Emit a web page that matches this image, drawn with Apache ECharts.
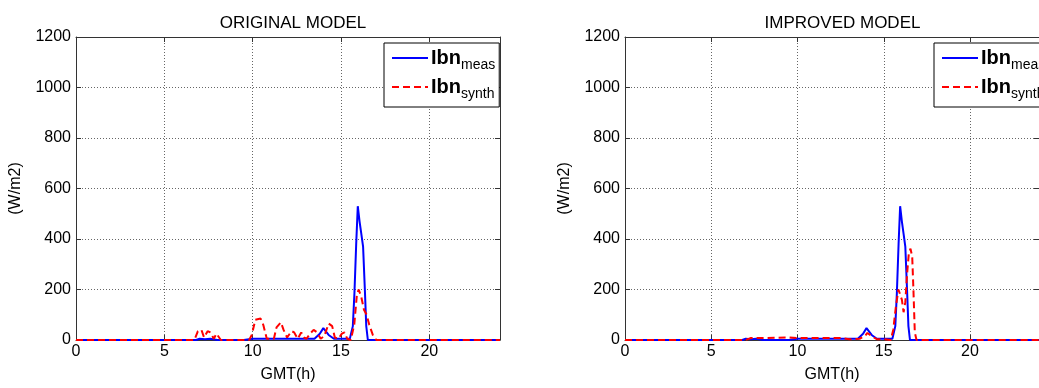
<!DOCTYPE html>
<html>
<head>
<meta charset="utf-8">
<script src="https://cdn.jsdelivr.net/npm/echarts@6/dist/echarts.min.js"></script>
<style>html,body{margin:0;padding:0;background:#fff}#c{width:1039px;height:388px}</style>
</head>
<body>
<div id="c"></div>
<script>
// ---- data ----
const titles = ['ORIGINAL MODEL', 'IMPROVED MODEL'];
const xName = 'GMT(h)';
const yName = '(W/m2)';

// measured direct normal irradiance (same in both panels)
const hoursMeas = [0, 6.8, 7.0, 7.3, 7.6, 8.0, 9.5, 10.0, 12.0, 13.5, 13.8, 14.0, 14.3, 14.6, 15.0, 15.5, 15.6, 15.67, 15.76, 15.86, 15.95, 16.05, 16.15, 16.25, 16.35, 16.43, 16.52, 24];
const ibnMeas   = [0, 0, 5, 3, 5, 0, 0, 5, 5, 5, 25, 47, 20, 5, 5, 5, 5, 55, 185, 380, 530, 470, 420, 370, 200, 55, 0, 0];

// synthetic, original model
const hoursSynthOrig = [0, 6.7, 6.9, 7.1, 7.25, 7.45, 7.6, 7.8, 7.95, 8.2, 9.8, 9.95, 10.15, 10.45, 10.6, 10.8, 11.2, 11.35, 11.6, 11.75, 11.95, 12.2, 12.35, 12.55, 12.75, 12.9, 13.05, 13.25, 13.45, 13.65, 13.85, 14.05, 14.3, 14.5, 14.65, 14.85, 15.05, 15.2, 15.35, 15.55, 15.75, 15.9, 16.0, 16.15, 16.3, 16.45, 16.6, 16.8, 17.0, 24];
const ibnSynthOrig   = [0, 0, 35, 40, 10, 35, 30, 5, 25, 0, 0, 20, 80, 85, 60, 5, 5, 50, 70, 40, 10, 35, 30, 5, 30, 10, 5, 25, 40, 30, 5, 15, 65, 55, 10, 5, 25, 30, 5, 0, 60, 180, 200, 170, 120, 100, 60, 20, 0, 0];

// synthetic, improved model
const hoursSynthImp = [0, 7.0, 7.3, 8.0, 9.5, 10.0, 12.5, 13.0, 13.6, 13.9, 14.05, 14.3, 14.6, 15.0, 15.4, 15.55, 15.7, 15.85, 15.95, 16.05, 16.15, 16.25, 16.35, 16.45, 16.55, 16.65, 16.72, 16.8, 16.9, 24];
const ibnSynthImp   = [0, 0, 8, 8, 10, 8, 8, 3, 5, 15, 28, 15, 3, 3, 0, 40, 130, 200, 205, 160, 110, 150, 260, 340, 362, 330, 200, 30, 0, 0];

const legendSub = { meas: 'meas', synth: 'synth' };

// ---- chart ----
const FONT = '"Liberation Sans", Arial, Helvetica, sans-serif';
const AX = '#333';
const zip = (xs, ys) => xs.map((x, i) => [x, ys[i]]);

const grids = [
  { left: 76, top: 37, width: 424, height: 305 },
  { left: 625, top: 37, width: 425, height: 305 }
];

const xAxes = [], yAxes = [], series = [], legends = [], titleArr = [];
grids.forEach((g, i) => {
  xAxes.push({
    type: 'value', gridIndex: i, min: 0, max: 24, interval: 5, position: 'bottom',
    name: xName, nameLocation: 'middle', nameGap: 27,
    nameTextStyle: { fontFamily: FONT, fontSize: 16, color: '#000' },
    axisLine: { show: true, onZero: false, lineStyle: { color: AX, width: 1 } },
    axisTick: { show: true, inside: true, length: 5, lineStyle: { color: AX } },
    axisLabel: { fontFamily: FONT, fontSize: 16, color: '#000', margin: 4, showMaxLabel: false },
    splitLine: { show: true, lineStyle: { color: '#666', type: [1, 2], width: 1 } }
  });
  xAxes.push({
    type: 'value', gridIndex: i, min: 0, max: 24, interval: 5, position: 'top',
    axisLine: { show: true, onZero: false, lineStyle: { color: AX, width: 1 } },
    axisTick: { show: true, inside: true, length: 5, lineStyle: { color: AX } },
    axisLabel: { show: false }, splitLine: { show: false }
  });
  yAxes.push({
    type: 'value', gridIndex: i, min: 0, max: 1200, interval: 200, position: 'left',
    name: yName, nameLocation: 'middle', nameGap: 52, nameRotate: 90,
    nameTextStyle: { fontFamily: FONT, fontSize: 16, color: '#000' },
    axisLine: { show: true, onZero: false, lineStyle: { color: AX, width: 1 } },
    axisTick: { show: true, inside: true, length: 5, lineStyle: { color: AX } },
    axisLabel: { fontFamily: FONT, fontSize: 16, color: '#000', margin: 5, formatter: v => String(v) },
    splitLine: { show: true, lineStyle: { color: '#666', type: [1, 2], width: 1 } }
  });
  yAxes.push({
    type: 'value', gridIndex: i, min: 0, max: 1200, interval: 200, position: 'right',
    axisLine: { show: true, onZero: false, lineStyle: { color: AX, width: 1 } },
    axisTick: { show: true, inside: true, length: 5, lineStyle: { color: AX } },
    axisLabel: { show: false }, splitLine: { show: false }
  });
  titleArr.push({
    text: titles[i], left: g.left + g.width / 2, top: 10, textAlign: 'center',
    textStyle: { fontFamily: FONT, fontSize: 17, fontWeight: 'normal', color: '#000' }
  });
  const synthHours = i === 0 ? hoursSynthOrig : hoursSynthImp;
  const synthVals = i === 0 ? ibnSynthOrig : ibnSynthImp;
  const mName = 'meas' + i, sName = 'synth' + i;
  series.push({
    name: mName, type: 'line', xAxisIndex: 2 * i, yAxisIndex: 2 * i,
    data: zip(hoursMeas, ibnMeas), symbol: 'none', silent: true,
    lineStyle: { color: '#0000ff', width: 2 }, itemStyle: { color: '#0000ff' }, z: 3
  });
  series.push({
    name: sName, type: 'line', xAxisIndex: 2 * i, yAxisIndex: 2 * i,
    data: zip(synthHours, synthVals), symbol: 'none', silent: true,
    lineStyle: { color: '#ff0000', width: 2, type: [7, 4] }, itemStyle: { color: '#ff0000' }, z: 4
  });
  legends.push({
    data: [mName, sName], orient: 'vertical',
    left: g.left + g.width - 116, top: 43,
    backgroundColor: '#fff', borderColor: '#000', borderWidth: 1,
    padding: [5, 4, 6, 7], itemGap: 5, itemWidth: 36, itemHeight: 14,
    selectedMode: false,
    itemStyle: { color: 'rgba(0,0,0,0)', borderWidth: 0, opacity: 0 },
    formatter: n => '{b|Ibn}{s|' + (n.startsWith('meas') ? legendSub.meas : legendSub.synth) + '}',
    textStyle: {
      padding: [0, 0, 0, -2],
      rich: {
        b: { fontFamily: FONT, fontSize: 20, fontWeight: 'bold', color: '#000' },
        s: { fontFamily: FONT, fontSize: 14, color: '#000', padding: [14, 0, 0, 0] }
      }
    }
  });
});

const chart = echarts.init(document.getElementById('c'), null, { renderer: 'canvas' });
chart.setOption({
  animation: false,
  backgroundColor: '#fff',
  title: titleArr,
  grid: grids,
  xAxis: xAxes,
  yAxis: yAxes,
  legend: legends,
  series: series
});
</script>
</body>
</html>
